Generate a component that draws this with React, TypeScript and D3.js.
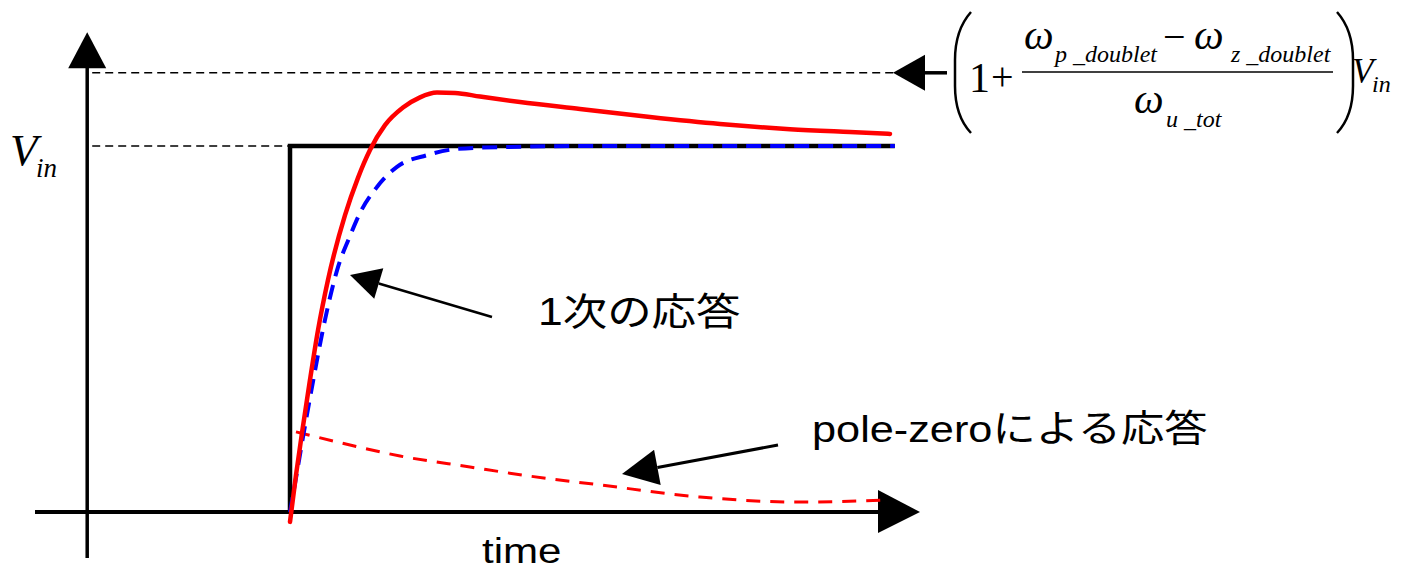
import React from "react";
import * as d3 from "d3";

// Step response of an amplifier with a pole-zero doublet (normalized: Vin = 1)
type Pt = [number, number]; // [time, voltage / Vin]

const stepInput: Pt[] = [[0, 0], [0, 1], [10.08, 1]];

const totalResponse: Pt[] = [
  [0, -0.027], [0.1, 0.101], [0.2, 0.216], [0.333, 0.361], [0.467, 0.497],
  [0.633, 0.634], [0.917, 0.811], [1.133, 0.913], [1.333, 0.989], [1.583, 1.057],
  [1.883, 1.105], [2.167, 1.133], [2.45, 1.146], [2.75, 1.145], [3.167, 1.135],
  [3.833, 1.12], [4.833, 1.101], [6.0, 1.079], [7.167, 1.06], [8.333, 1.046],
  [9.333, 1.038], [10, 1.033],
];

const firstOrderResponse: Pt[] = [
  [0, 0], [0.1, 0.093], [0.217, 0.205], [0.367, 0.342], [0.583, 0.525],
  [0.8, 0.669], [1.0, 0.754], [1.167, 0.817], [1.45, 0.888], [1.783, 0.943],
  [2.283, 0.975], [2.783, 0.992], [3.5, 0.997], [5.167, 1.0], [10.08, 1.0],
];

const poleZeroResponse: Pt[] = [
  [0.1, 0.219], [1.0, 0.183], [1.833, 0.153], [3.0, 0.123], [4.0, 0.098],
  [5.167, 0.074], [6.833, 0.041], [8.5, 0.027], [10, 0.033],
];

const overshootLevel = 1.2; // (1 + (ωp - ωz)/ωu) Vin
const axisTimeRange: [number, number] = [-4.25, 10.5];
const axisVoltRange: [number, number] = [-0.126, 1.311];
const yAxisTime = -3.38;

const labelFirstOrder = "1次の応答";
const labelPoleZero = "pole-zeroによる応答";
const labelTime = "time";

const W = 1418;
const H = 571;

export default function App() {
  const x = d3.scaleLinear().domain([0, 10]).range([290, 890]);
  const y = d3.scaleLinear().domain([0, 1]).range([512, 146]);

  const smooth = d3
    .line<Pt>()
    .x((d) => x(d[0]))
    .y((d) => y(d[1]))
    .curve(d3.curveMonotoneX);
  const straight = d3
    .line<Pt>()
    .x((d) => x(d[0]))
    .y((d) => y(d[1]));

  const y0 = y(0);
  const yAxX = x(yAxisTime);
  const yTop = y(axisVoltRange[1]);
  const xRight = x(axisTimeRange[1]);

  const sans = "'Liberation Sans', Arial, 'Noto Sans CJK JP', sans-serif";
  const serif = "'Liberation Serif', 'Times New Roman', serif";
  const stretch = 1.17;

  const tri = (pts: Pt[]) => "M" + pts.map((p) => p.join(",")).join("L") + "Z";

  // annotation arrow: thin shaft with a filled head at the tip
  const arrow = (tip: Pt, from: Pt, len: number, half: number, sw: number) => {
    const dx = from[0] - tip[0];
    const dy = from[1] - tip[1];
    const L = Math.hypot(dx, dy);
    const ux = dx / L;
    const uy = dy / L;
    const bx = tip[0] + ux * len;
    const by = tip[1] + uy * len;
    const head: Pt[] = [tip, [bx - uy * half, by + ux * half], [bx + uy * half, by - ux * half]];
    return (
      <g>
        <line x1={bx} y1={by} x2={from[0]} y2={from[1]} stroke="#000" strokeWidth={sw} />
        <path d={tri(head)} fill="#000" />
      </g>
    );
  };

  const yOver = y(overshootLevel);

  return (
    <svg
      width={W}
      height={H}
      style={{ position: "absolute", left: 0, top: 0, background: "#fff" }}
    >
      {/* reference levels */}
      <line x1={yAxX + 5} x2={x(0)} y1={y(1)} y2={y(1)} stroke="#000" strokeWidth={1.5} strokeDasharray="8 5" />
      <line x1={yAxX + 5} x2={895} y1={yOver} y2={yOver} stroke="#000" strokeWidth={1.5} strokeDasharray="8 5" />

      {/* axes */}
      <line x1={yAxX} x2={yAxX} y1={y(axisVoltRange[0])} y2={yTop + 30} stroke="#000" strokeWidth={3.5} />
      <path d={tri([[yAxX, yTop], [yAxX - 19, yTop + 36], [yAxX + 19, yTop + 36]])} fill="#000" />
      <line x1={x(axisTimeRange[0])} x2={xRight - 36} y1={y0} y2={y0} stroke="#000" strokeWidth={4} />
      <path d={tri([[xRight, y0], [xRight - 42, y0 - 22], [xRight - 42, y0 + 21]])} fill="#000" />

      {/* input step */}
      <path d={straight(stepInput) ?? ""} fill="none" stroke="#000" strokeWidth={4.5} strokeLinejoin="miter" />

      {/* responses */}
      <path d={smooth(poleZeroResponse) ?? ""} fill="none" stroke="#ff0000" strokeWidth={3} strokeDasharray="14 10" />
      <path d={smooth(firstOrderResponse) ?? ""} fill="none" stroke="#0000ff" strokeWidth={4} strokeDasharray="15 9" />
      <path d={smooth(totalResponse) ?? ""} fill="none" stroke="#ff0000" strokeWidth={4.5} strokeLinecap="round" />

      {/* annotations */}
      {arrow([350, 275], [492, 317], 30, 16, 2.5)}
      {arrow([622, 474], [778, 445], 36, 18, 3)}

      <text transform={`translate(538,325) scale(${stretch},1)`} fontFamily={sans} fontSize={38} fill="#000">
        {labelFirstOrder}
      </text>
      <text transform={`translate(812,442) scale(${stretch},1)`} fontFamily={sans} fontSize={37} fill="#000">
        {labelPoleZero}
      </text>
      <text transform={`translate(482,563) scale(${stretch},1)`} fontFamily={sans} fontSize={36} fill="#000">
        {labelTime}
      </text>

      {/* Vin on the voltage axis */}
      <text x={10} y={165} fontFamily={serif} fontStyle="italic" fontSize={45} fill="#000">V</text>
      <text x={36} y={177} fontFamily={serif} fontStyle="italic" fontSize={27} fill="#000">in</text>

      {/* overshoot level expression */}
      {arrow([893, yOver], [947, yOver], 32, 18, 3.5)}
      <path d="M971,12 Q955,30 955,60 L955,86 Q955,116 971,133" fill="none" stroke="#000" strokeWidth={2.5} />
      <path d="M1337,12 Q1353,30 1353,60 L1353,86 Q1353,116 1337,133" fill="none" stroke="#000" strokeWidth={2.5} />
      <text x={969} y={92} fontFamily={serif} fontSize={42} fill="#000">1</text>
      <text x={991} y={90} fontFamily={serif} fontSize={40} fill="#000">+</text>
      <line x1={1022} x2={1333} y1={72} y2={72} stroke="#000" strokeWidth={1.6} />
      <text x={1024} y={49} fontFamily={serif} fontStyle="italic" fontSize={42} fill="#000">ω</text>
      <text x={1055} y={62} fontFamily={serif} fontStyle="italic" fontSize={24} fill="#000">p _doublet</text>
      <text x={1163} y={50} fontFamily={serif} fontSize={40} fill="#000">−</text>
      <text x={1194} y={49} fontFamily={serif} fontStyle="italic" fontSize={42} fill="#000">ω</text>
      <text x={1231} y={62} fontFamily={serif} fontStyle="italic" fontSize={24} fill="#000">z _doublet</text>
      <text x={1134} y={113} fontFamily={serif} fontStyle="italic" fontSize={42} fill="#000">ω</text>
      <text x={1166} y={127} fontFamily={serif} fontStyle="italic" fontSize={24} fill="#000">u _tot</text>
      <text x={1352} y={83} fontFamily={serif} fontStyle="italic" fontSize={35} fill="#000">V</text>
      <text x={1372} y={92} fontFamily={serif} fontStyle="italic" fontSize={24} fill="#000">in</text>
    </svg>
  );
}
